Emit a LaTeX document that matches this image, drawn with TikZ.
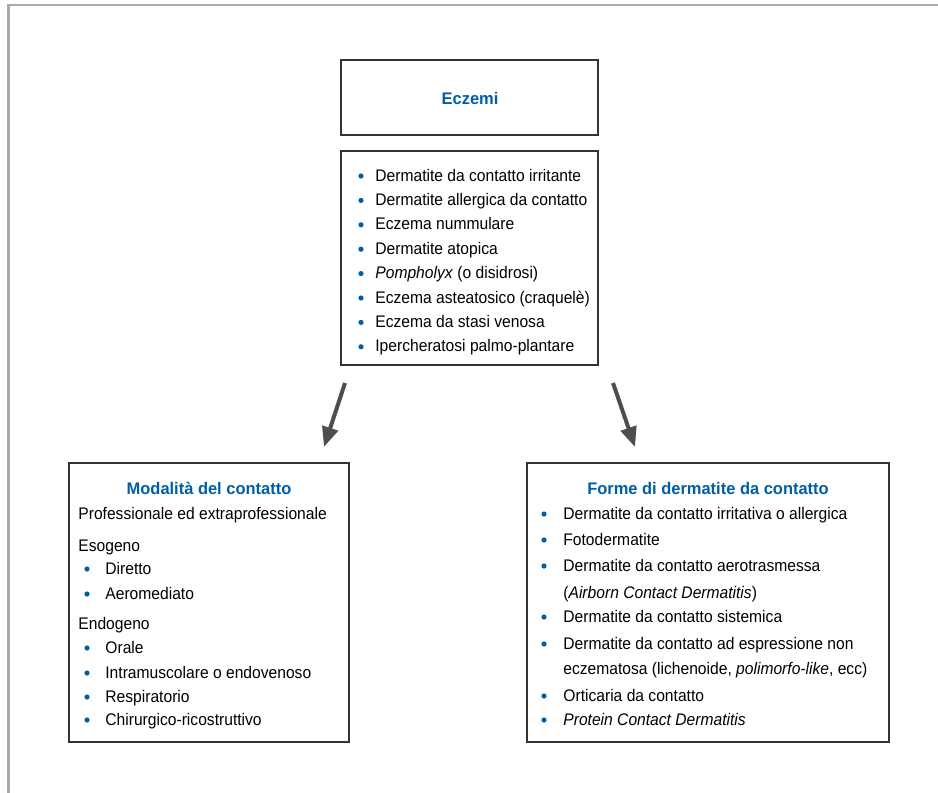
\documentclass[tikz,border=0pt]{standalone}
\usepackage{fontspec}
\setmainfont[FakeStretch=0.93, BoldFeatures={FakeStretch=0.98}]{Liberation Sans}
\usetikzlibrary{arrows.meta}

\definecolor{blu}{RGB}{0,94,166}
\definecolor{cornice}{RGB}{170,170,172}
\definecolor{grigio}{RGB}{78,78,80}

\tikzset{
  box/.style={draw=black!80, line width=0.75pt},
  titolo/.style={anchor=base, inner sep=0pt, text=blu, font=\fontsize{8.4}{10}\selectfont\bfseries},
  voce/.style={anchor=base west, inner sep=0pt, font=\fontsize{8.4}{10}\selectfont},
  pallino/.style={circle, fill=blu, inner sep=0pt, minimum size=2.6pt},
  freccia/.style={draw=grigio, line width=2pt, -{Triangle[length=10pt,width=8pt]}}
}

\begin{document}
\begin{tikzpicture}[x=0.5pt, y=-0.5pt]
  \useasboundingbox (0,0) rectangle (938,793);
  \draw[cornice, line width=1.2pt] (938,5) -- (8.3,5) -- (8.3,793);

  % Eczemi
  \draw[box] (341,60) rectangle (598,135);
  \node[titolo] (eczemi) at (470,104) {Eczemi};
  \draw[box] (341,151) rectangle (598,365);
  \foreach \testo [count=\i] in {Dermatite da contatto irritante, Dermatite allergica da contatto,
      Eczema nummulare, Dermatite atopica, \textit{Pompholyx} (o disidrosi),
      Eczema asteatosico (craquelè), Eczema da stasi venosa, Ipercheratosi palmo-plantare} {
    \node[pallino] (pe\i) at (361,{156.6+24.4*\i-5}) {};
    \node[voce] (el\i) at (375,{156.6+24.4*\i}) {\testo};
  }

  % frecce
  \coordinate (s1) at (345,383);
  \coordinate (t1) at (324,447);
  \coordinate (s2) at (613,383);
  \coordinate (t2) at (635,447);
  \draw[freccia] (s1) -- (t1);
  \draw[freccia] (s2) -- (t2);

  % modalita del contatto
  \draw[box] (69,463) rectangle (349,742);
  \node[titolo] (modalita) at (209,494) {Modalità del contatto};
  \node[voce] (prof) at (78,519) {Professionale ed extraprofessionale};
  \node[voce] (eso) at (78,551) {Esogeno};
  \foreach \testo/\y [count=\i] in {Diretto/574, Aeromediato/599} {
    \node[pallino] (pm\i) at (87,\y-5) {};
    \node[voce] (mo\i) at (105,\y) {\testo};
  }
  \node[voce] (endo) at (78,629) {Endogeno};
  \foreach \testo/\y [count=\i] in {Orale/653, Intramuscolare o endovenoso/678,
      Respiratorio/702, Chirurgico-ricostruttivo/725} {
    \node[pallino] (pn\i) at (87,\y-5) {};
    \node[voce] (en\i) at (105,\y) {\testo};
  }

  % forme di dermatite
  \draw[box] (527,463) rectangle (889,742);
  \node[titolo] (forme) at (708,494) {Forme di dermatite da contatto};
  \foreach \testo/\y [count=\i] in {Dermatite da contatto irritativa o allergica/519,
      Fotodermatite/545, Dermatite da contatto aerotrasmessa/571,
      Dermatite da contatto sistemica/622, Dermatite da contatto ad espressione non/649,
      Orticaria da contatto/701, \textit{Protein Contact Dermatitis}/725} {
    \node[pallino] (pf\i) at (544,\y-5) {};
    \node[voce] (fo\i) at (563,\y) {\testo};
  }
  \node[voce] (airborn) at (563,598) {(\textit{Airborn Contact Dermatitis})};
  \node[voce] (eczemat) at (563,674) {eczematosa (lichenoide, \textit{polimorfo-like}, ecc)};
\end{tikzpicture}
\end{document}
